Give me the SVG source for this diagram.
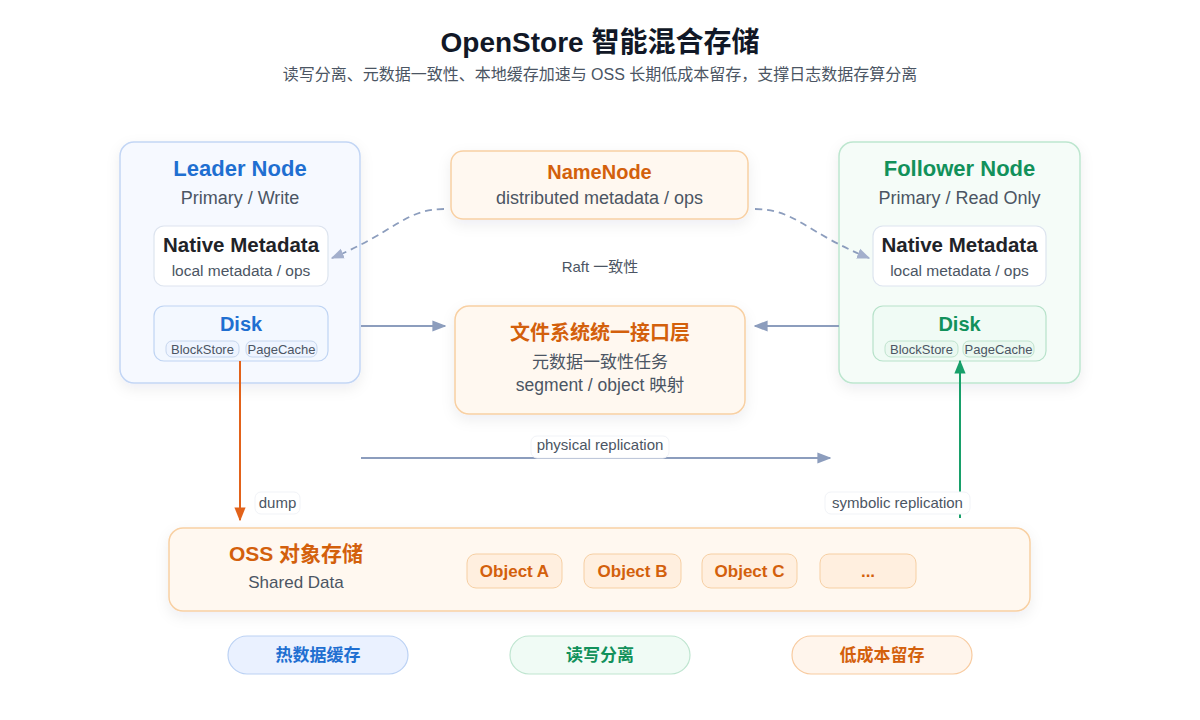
<svg xmlns="http://www.w3.org/2000/svg" width="1200" height="720" viewBox="0 0 1200 720">
<defs>
<style>
text{font-family:"Liberation Sans","Noto Sans CJK SC",sans-serif;text-anchor:middle}
.title{font-size:28px;font-weight:bold;fill:#111827}
.sub{font-size:16px;fill:#4b5563}
.h{font-size:22px;font-weight:bold}
.g{fill:#4b5563}
.blue{fill:#1f6fd1}
.green{fill:#12915b}
.orange{fill:#d3600c}
.dark{fill:#1f2328}
.chip{font-size:13px;fill:#4b5563}
.lbl{font-size:15px;fill:#4b5563}
.conn{fill:none;stroke:#8c9dbd;stroke-width:1.8}
</style>
<filter id="sh" x="-20%" y="-20%" width="140%" height="150%">
<feDropShadow dx="0" dy="5" stdDeviation="7" flood-color="#1e293b" flood-opacity="0.07"/>
</filter>
<marker id="agl" viewBox="0 0 10 10" refX="9" refY="5" markerWidth="14" markerHeight="14" orient="auto" markerUnits="userSpaceOnUse">
<path d="M0,1 L10,5 L0,9 z" fill="#8c9dbd"/>
</marker>
<marker id="ad" viewBox="0 0 10 10" refX="9" refY="5" markerWidth="13" markerHeight="13" orient="auto" markerUnits="userSpaceOnUse">
<path d="M0,1 L10,5 L0,9 z" fill="#a3afcc"/>
</marker>
<marker id="ao" viewBox="0 0 10 10" refX="9" refY="5" markerWidth="14" markerHeight="14" orient="auto" markerUnits="userSpaceOnUse">
<path d="M0,1 L10,5 L0,9 z" fill="#e2621a"/>
</marker>
<marker id="agr" viewBox="0 0 10 10" refX="9" refY="5" markerWidth="14" markerHeight="14" orient="auto" markerUnits="userSpaceOnUse">
<path d="M0,1 L10,5 L0,9 z" fill="#18a06a"/>
</marker>
</defs>
<rect width="1200" height="720" fill="#ffffff"/>

<g id="header">
<text class="title" x="600" y="52">OpenStore 智能混合存储</text>
<text class="sub" x="600" y="80">读写分离、元数据一致性、本地缓存加速与 OSS 长期低成本留存，支撑日志数据存算分离</text>
</g>

<g id="leader-node">
<rect x="120" y="142" width="240" height="241" rx="14" fill="#f6f9ff" stroke="#c3d6f5" stroke-width="1.5" filter="url(#sh)"/>
<text class="h blue" x="240" y="176">Leader Node</text>
<text class="g" x="240" y="204" font-size="18">Primary / Write</text>
<g id="leader-meta">
<rect x="154" y="226" width="174" height="60" rx="10" fill="#ffffff" stroke="#dde4ef" stroke-width="1.2"/>
<text class="dark" x="241" y="252" font-size="20.5" font-weight="bold">Native Metadata</text>
<text class="g" x="241" y="276" font-size="15.5">local metadata / ops</text>
</g>
<g id="leader-disk">
<rect x="154" y="306" width="174" height="55" rx="10" fill="#f3f8ff" stroke="#bfd4f3" stroke-width="1.2"/>
<text class="blue" x="241" y="331" font-size="20" font-weight="bold">Disk</text>
<rect x="166" y="341" width="73" height="16" rx="6" fill="#eef4ff" stroke="#c6d6ee"/>
<text class="chip" x="202.5" y="353.5">BlockStore</text>
<rect x="246" y="341" width="71" height="16" rx="6" fill="#eef4ff" stroke="#c6d6ee"/>
<text class="chip" x="281.5" y="353.5">PageCache</text>
</g>
</g>

<g id="follower-node">
<rect x="839" y="142" width="241" height="241" rx="14" fill="#f5fcf8" stroke="#bde6cf" stroke-width="1.5" filter="url(#sh)"/>
<text class="h green" x="959.5" y="176">Follower Node</text>
<text class="g" x="959.5" y="204" font-size="18">Primary / Read Only</text>
<g id="follower-meta">
<rect x="873" y="226" width="173" height="60" rx="10" fill="#ffffff" stroke="#dde4ef" stroke-width="1.2"/>
<text class="dark" x="959.5" y="252" font-size="20.5" font-weight="bold">Native Metadata</text>
<text class="g" x="959.5" y="276" font-size="15.5">local metadata / ops</text>
</g>
<g id="follower-disk">
<rect x="873" y="306" width="173" height="55" rx="10" fill="#f0fbf5" stroke="#b7e2ca" stroke-width="1.2"/>
<text class="green" x="959.5" y="331" font-size="20" font-weight="bold">Disk</text>
<rect x="885" y="341" width="73" height="16" rx="6" fill="#eaf8f0" stroke="#bfe3ce"/>
<text class="chip" x="921.5" y="353.5">BlockStore</text>
<rect x="963" y="341" width="71" height="16" rx="6" fill="#eaf8f0" stroke="#bfe3ce"/>
<text class="chip" x="998.5" y="353.5">PageCache</text>
</g>
</g>

<g id="namenode">
<rect x="451" y="151" width="297" height="68" rx="12" fill="#fff8f0" stroke="#f8d0a3" stroke-width="1.5" filter="url(#sh)"/>
<text class="orange" x="599.5" y="179" font-size="20" font-weight="bold">NameNode</text>
<text class="g" x="599.5" y="204" font-size="18">distributed metadata / ops</text>
</g>

<g id="fs-layer">
<rect x="455" y="306" width="290" height="108" rx="14" fill="#fff8f0" stroke="#f8d0a3" stroke-width="1.5" filter="url(#sh)"/>
<text class="orange" x="600" y="340" font-size="20" font-weight="bold">文件系统统一接口层</text>
<text class="g" x="600" y="368" font-size="17">元数据一致性任务</text>
<text class="g" x="600" y="391" font-size="17.5">segment / object 映射</text>
</g>

<g id="oss">
<rect x="169" y="528" width="861" height="83" rx="14" fill="#fff8f0" stroke="#f8d0a3" stroke-width="1.5" filter="url(#sh)"/>
<text class="orange" x="296" y="561" font-size="21" font-weight="bold">OSS 对象存储</text>
<text class="g" x="296" y="588" font-size="17">Shared Data</text>
<g id="obj-a"><rect x="467" y="554" width="95" height="34" rx="9" fill="#ffefdf" stroke="#f6cfa3"/><text class="orange" x="514.5" y="577" font-size="17" font-weight="bold">Object A</text></g>
<g id="obj-b"><rect x="584" y="554" width="97" height="34" rx="9" fill="#ffefdf" stroke="#f6cfa3"/><text class="orange" x="632.5" y="577" font-size="17" font-weight="bold">Object B</text></g>
<g id="obj-c"><rect x="702" y="554" width="95" height="34" rx="9" fill="#ffefdf" stroke="#f6cfa3"/><text class="orange" x="749.5" y="577" font-size="17" font-weight="bold">Object C</text></g>
<g id="obj-more"><rect x="820" y="554" width="96" height="34" rx="9" fill="#ffefdf" stroke="#f6cfa3"/><text class="orange" x="868" y="577" font-size="17" font-weight="bold">...</text></g>
</g>

<g id="pill-hot">
<rect x="228" y="636" width="180" height="38" rx="19" fill="#eaf1ff" stroke="#bcd2f4" stroke-width="1.2"/>
<text class="blue" x="318" y="661" font-size="17" font-weight="bold">热数据缓存</text>
</g>
<g id="pill-rw">
<rect x="510" y="636" width="180" height="38" rx="19" fill="#f0fbf5" stroke="#bfe5d0" stroke-width="1.2"/>
<text class="green" x="600" y="661" font-size="17" font-weight="bold">读写分离</text>
</g>
<g id="pill-cost">
<rect x="792" y="636" width="180" height="38" rx="19" fill="#fff5ec" stroke="#f8cba0" stroke-width="1.2"/>
<text class="orange" x="882" y="661" font-size="17" font-weight="bold">低成本留存</text>
</g>

<g id="connectors">
<path class="conn" d="M444,209 C405,209 395,232 332,258" stroke="#a3afcc" stroke-dasharray="7 5" marker-end="url(#ad)"/>
<path class="conn" d="M755,209 C795,209 805,232 869,258" stroke="#a3afcc" stroke-dasharray="7 5" marker-end="url(#ad)"/>
<line class="conn" x1="361" y1="326" x2="445" y2="326" marker-end="url(#agl)"/>
<line class="conn" x1="839" y1="326" x2="755" y2="326" marker-end="url(#agl)"/>
<line class="conn" x1="361" y1="458" x2="830" y2="458" marker-end="url(#agl)"/>
<line x1="240" y1="361" x2="240" y2="520" stroke="#e2621a" stroke-width="2" marker-end="url(#ao)"/>
<line x1="960" y1="518" x2="960" y2="361" stroke="#18a06a" stroke-width="2" marker-end="url(#agr)"/>
<text class="lbl" x="600" y="272" font-size="14">Raft 一致性</text>
<rect x="531" y="436" width="138" height="22" rx="6" fill="#ffffff" stroke="#f1f3f7"/>
<text class="lbl" x="600" y="450">physical replication</text>
<rect x="255" y="492" width="45" height="22" rx="6" fill="#ffffff" stroke="#f1f3f7"/>
<text class="lbl" x="277.5" y="508">dump</text>
<rect x="825" y="492" width="145" height="22" rx="6" fill="#ffffff" stroke="#f1f3f7"/>
<text class="lbl" x="897.5" y="508">symbolic replication</text>
</g>
</svg>
